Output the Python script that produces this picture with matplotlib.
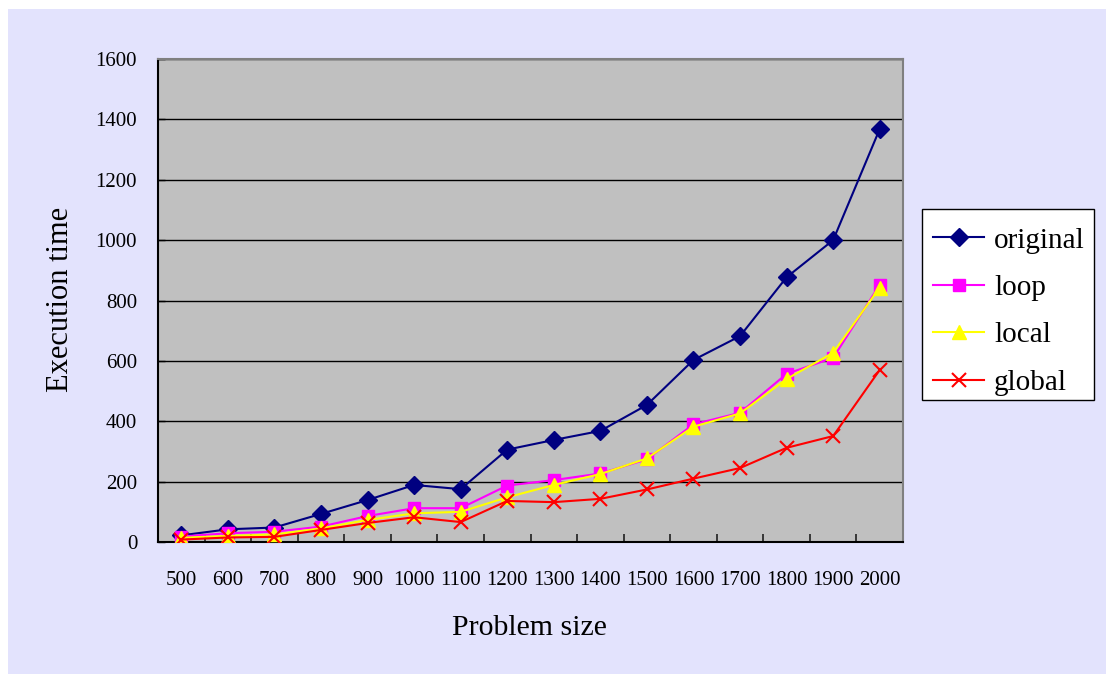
import matplotlib
matplotlib.use("Agg")
import matplotlib.pyplot as plt
from matplotlib.patches import Rectangle

sizes = ["500", "600", "700", "800", "900", "1000", "1100", "1200",
         "1300", "1400", "1500", "1600", "1700", "1800", "1900", "2000"]
original = [22, 42, 48, 93, 139, 189, 175, 306, 338, 368, 454, 603, 682, 877, 1000, 1368]
loop = [18, 29, 34, 51, 86, 112, 112, 187, 205, 227, 274, 390, 428, 557, 610, 852]
local = [14, 20, 25, 45, 73, 95, 100, 148, 189, 225, 277, 382, 426, 540, 627, 843]
glob = [8, 15, 17, 40, 63, 82, 66, 136, 132, 143, 174, 210, 245, 312, 351, 570]
yticks = [0, 200, 400, 600, 800, 1000, 1200, 1400, 1600]

plt.rcParams['font.family'] = ['Liberation Serif', 'DejaVu Serif']

W, H = 1106, 674
fig = plt.figure(figsize=(W / 100, H / 100), dpi=100)
fig.patch.set_facecolor('white')
bg = Rectangle((8 / W, 0), 1, 1 - 9 / H, transform=fig.transFigure,
               facecolor='#E3E3FD', edgecolor='none', zorder=-10)
fig.patches.append(bg)

ax = fig.add_axes([158 / W, 1 - 542 / H, (903 - 158) / W, (542 - 59) / H])
ax.set_facecolor('#C0C0C0')

x = list(range(len(sizes)))
ax.plot(x, original, color='#000080', marker='D', markersize=9.5, lw=1.5,
        label='original', zorder=3)
ax.plot(x, loop, color='#FF00FF', marker='s', markersize=9, lw=1.5,
        label='loop', zorder=4)
ax.plot(x, local, color='#FFFF00', marker='^', markersize=10.5, lw=1.5,
        label='local', zorder=5)
ax.plot(x, glob, color='#FF0000', marker='x', markersize=10, mew=1.5, lw=1.5,
        label='global', zorder=6)

ax.set_xlim(-0.5, len(sizes) - 0.5)
ax.set_ylim(0, 1600)
ax.set_yticks(yticks)
ax.set_yticklabels([str(v) for v in yticks])
ax.yaxis.grid(True, color='black', lw=1.0)
ax.set_axisbelow(True)

ax.set_xticks(x)
ax.set_xticklabels(sizes)
ax.set_xticks([i - 0.5 for i in range(1, len(sizes))], minor=True)
ax.tick_params(axis='x', which='major', length=0, pad=21, labelsize=15)
ax.tick_params(axis='x', which='minor', direction='in', length=6, width=1.2,
               color='#202020')
ax.tick_params(axis='y', direction='in', length=5, width=1.0, pad=15,
               labelsize=15)

for side in ['left', 'bottom']:
    ax.spines[side].set_color('black')
    ax.spines[side].set_linewidth(1.5)
for side in ['top', 'right']:
    ax.spines[side].set_color('#808080')
    ax.spines[side].set_linewidth(1.5)

fig.text(60 / W, 1 - 299 / H, 'Execution time', rotation=90, fontsize=22,
         ha='center', va='center')
fig.text(529 / W, 1 - 628 / H, 'Problem size', fontsize=21.5,
         ha='center', va='center')

# legend box frame
lbox = Rectangle((922 / W, 1 - 400 / H), (1094 - 922) / W, (400 - 209) / H,
                 transform=fig.transFigure, facecolor='white',
                 edgecolor='black', lw=1.0, zorder=4)
fig.patches.append(lbox)

leg = fig.legend(loc='upper left', bbox_to_anchor=(922 / W, 1 - 216 / H),
                 fontsize=21, frameon=False, borderaxespad=0,
                 handlelength=1.75, handletextpad=0.34, labelspacing=0.72,
                 borderpad=0.38)
leg.set_zorder(6)

fig.savefig('out.png', dpi=100, facecolor=fig.get_facecolor())
